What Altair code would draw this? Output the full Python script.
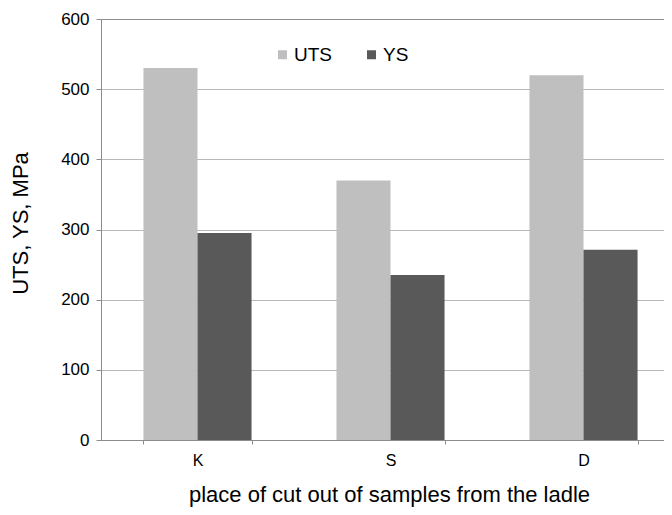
import altair as alt
import pandas as pd

places = ["K", "S", "D"]
uts = [530, 370, 520]
ys = [295, 235, 271]
series = ["UTS", "YS"]
colors = ["#bfbfbf", "#595959"]
y_ticks = [0, 100, 200, 300, 400, 500, 600]

rows = []
for i, p in enumerate(places):
    rows.append({"place": p, "series": "UTS", "value": uts[i]})
    rows.append({"place": p, "series": "YS", "value": ys[i]})
df = pd.DataFrame(rows)

FONT = "Liberation Sans"

chart = alt.Chart(df).mark_bar(strokeWidth=0).encode(
    x=alt.X(
        "place:N",
        sort=places,
        scale=alt.Scale(range=[0, 579], paddingInner=0.44, paddingOuter=0.22),
        axis=alt.Axis(
            title="place of cut out of samples from the ladle",
            titleFontSize=22,
            titleFont=FONT,
            titleFontWeight="normal",
            titleColor="#000000",
            titleX=288,
            titleY=61,
            titleAlign="center",
            titleBaseline="alphabetic",
            labelFontSize=16,
            labelFont=FONT,
            labelColor="#000000",
            labelAngle=0,
            labelPadding=8,
            tickBand="extent",
            tickSize=4,
            tickColor="#8c8c8c",
            domainColor="#8c8c8c",
            grid=False,
        ),
    ),
    xOffset=alt.XOffset(
        "series:N",
        sort=series,
        scale=alt.Scale(paddingInner=0, paddingOuter=0),
    ),
    y=alt.Y(
        "value:Q",
        scale=alt.Scale(domain=[0, 600], nice=False),
        axis=alt.Axis(
            title="UTS, YS, MPa",
            titleFontSize=22,
            titleFont=FONT,
            titleFontWeight="normal",
            titleColor="#000000",
            titleAngle=-90,
            titleX=-74,
            titleY=204,
            titleAlign="center",
            titleBaseline="alphabetic",
            values=y_ticks,
            labelFontSize=17,
            labelFont=FONT,
            labelColor="#000000",
            labelPadding=7,
            tickSize=5,
            tickColor="#8c8c8c",
            domainColor="#8c8c8c",
            grid=True,
            gridColor={"condition": {"test": "datum.value === 600", "value": "#8c8c8c"}, "value": "#b8b8b8"},
            gridWidth=1,
        ),
    ),
    color=alt.Color(
        "series:N",
        sort=series,
        scale=alt.Scale(domain=series, range=colors),
        legend=alt.Legend(
            title=None,
            orient="none",
            direction="horizontal",
            legendX=172,
            legendY=26,
            padding=0,
            symbolType="square",
            symbolSize=81,
            symbolStrokeWidth=0,
            labelFontSize=19,
            labelFont=FONT,
            labelColor="#000000",
            labelOffset=2,
            columnPadding=30,
        ),
    ),
).properties(
    width=563,
    height=421,
    autosize=alt.AutoSizeParams(type="none"),
    padding={"left": 93, "top": 11, "right": 0, "bottom": 67},
).configure_view(stroke=None)

chart.save("out.html", embed_options={"renderer": "svg", "actions": False})
